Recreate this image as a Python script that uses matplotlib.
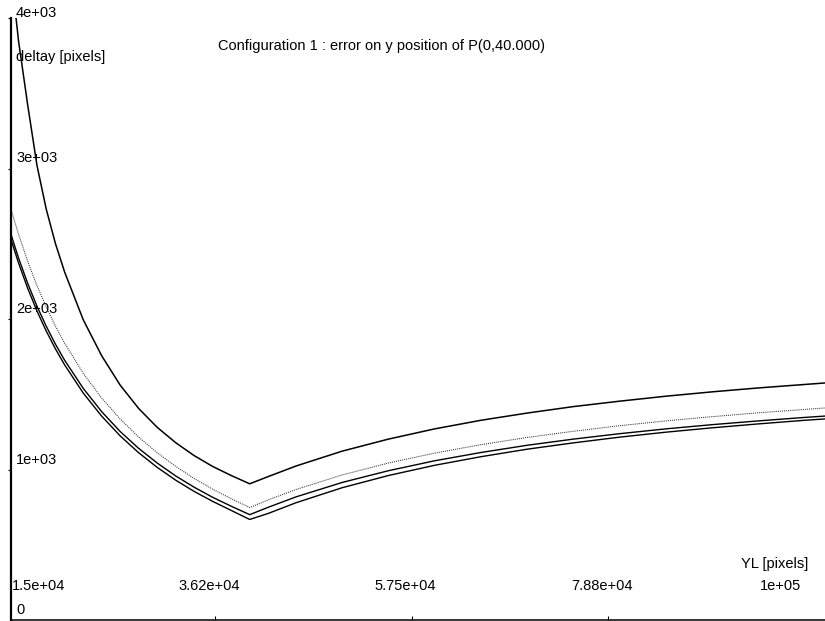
import matplotlib
matplotlib.use("Agg")
import matplotlib.pyplot as plt
from matplotlib.transforms import blended_transform_factory, offset_copy

plt.rcParams['font.family'] = ['Liberation Sans', 'DejaVu Sans']

# YL sample positions [pixels]
yl = [14200, 15000, 16000, 17000, 18000, 19000, 20000, 22000, 24000, 26000,
      28000, 30000, 32000, 34000, 36000, 38000, 40000,
      42000, 45000, 50000, 55000, 60000, 65000, 70000, 75000, 80000,
      85000, 90000, 95000, 100000, 102200]

# deltay [pixels] for the four configurations
curve_top = [4300, 3850, 3420, 3020, 2730, 2500, 2310, 1995, 1755, 1560,
             1405, 1280, 1178, 1092, 1020, 960, 905,
             953, 1023, 1122, 1202, 1270, 1327, 1375, 1418, 1454,
             1487, 1516, 1542, 1565, 1575]
curve_dotted = [2727, 2564, 2382, 2222, 2080, 1952, 1838, 1639, 1474, 1335,
                1215, 1111, 1021, 940, 869, 806, 747,
                798, 867, 964, 1043, 1109, 1165, 1213, 1254, 1291,
                1323, 1351, 1377, 1399, 1409]
curve_mid = [2560, 2406, 2236, 2085, 1952, 1832, 1725, 1539, 1384, 1252,
             1140, 1043, 957, 882, 815, 756, 700,
             749, 818, 914, 992, 1058, 1113, 1161, 1202, 1238,
             1270, 1298, 1323, 1346, 1355]
curve_low = [2526, 2373, 2203, 2053, 1920, 1801, 1694, 1508, 1354, 1223,
             1111, 1014, 929, 854, 788, 728, 668,
             708, 779, 879, 960, 1028, 1085, 1135, 1177, 1215,
             1248, 1277, 1303, 1327, 1336]

x_ticks = [15000, 36250, 57500, 78750, 100000]
x_tick_labels = ["1.5e+04", "3.62e+04", "5.75e+04", "7.88e+04", "1e+05"]
y_ticks = [0, 1000, 2000, 3000, 4000]
y_tick_labels = ["0", "1e+03", "2e+03", "3e+03", "4e+03"]

W, H = 825, 621
fig = plt.figure(figsize=(W / 100, H / 100), dpi=100)
ax = fig.add_axes([11 / W, 1 / H, (W - 11) / W, (620 - 18) / H])
ax.set_xlim(14190, 102200)
ax.set_ylim(0, 4000)

ax.plot(yl, curve_top, color='black', lw=1.1)
ax.plot(yl, curve_dotted, color='#333333', lw=0.75, linestyle=(0, (1, 1)))
ax.plot(yl, curve_mid, color='black', lw=1.0)
ax.plot(yl, curve_low, color='black', lw=1.0)

for side in ('top', 'right'):
    ax.spines[side].set_visible(False)
ax.spines['left'].set_linewidth(1.6)
ax.spines['bottom'].set_linewidth(1.1)

ax.set_xticks(x_ticks[1:-1])
ax.set_xticklabels([])
ax.tick_params(axis='x', direction='in', length=3, width=0.8)
ax.set_yticks(y_ticks[1:])
ax.set_yticklabels([])
ax.tick_params(axis='y', direction='out', length=2, width=0.8)

fs = 10.5
bx = blended_transform_factory(ax.transData, ax.transAxes)
by = blended_transform_factory(ax.transAxes, ax.transData)

# x tick labels, drawn inside the frame above the baseline
for i, (v, lab) in enumerate(zip(x_ticks, x_tick_labels)):
    if i == 0:
        tr = offset_copy(ax.transAxes, fig=fig, x=1, y=0, units='dots')
        ax.text(0, 34 / 602, lab, transform=tr, ha='left', va='center', fontsize=fs)
    elif i == len(x_ticks) - 1:
        tr = offset_copy(bx, fig=fig, x=-4, y=0, units='dots')
        ax.text(v, 34 / 602, lab, transform=tr, ha='right', va='center', fontsize=fs)
    else:
        tr = offset_copy(bx, fig=fig, x=-6, y=0, units='dots')
        ax.text(v, 34 / 602, lab, transform=tr, ha='center', va='center', fontsize=fs)

# y tick labels, just right of the axis and above each tick
for v, lab in zip(y_ticks, y_tick_labels):
    dy = 5 if v == y_ticks[-1] else 10
    tr = offset_copy(by, fig=fig, x=5, y=dy, units='dots')
    ax.text(0, v, lab, transform=tr, ha='left', va='center', fontsize=fs, clip_on=False)

fig.text(381 / W, 1 - 46 / H, "Configuration 1 : error on y position of P(0,40.000)",
         ha='center', va='center', fontsize=fs)
fig.text(16 / W, 1 - 57 / H, "deltay [pixels]", ha='left', va='center', fontsize=fs)
fig.text(808 / W, 1 - 564 / H, "YL [pixels]", ha='right', va='center', fontsize=fs)

fig.savefig("out.png", dpi=100)
